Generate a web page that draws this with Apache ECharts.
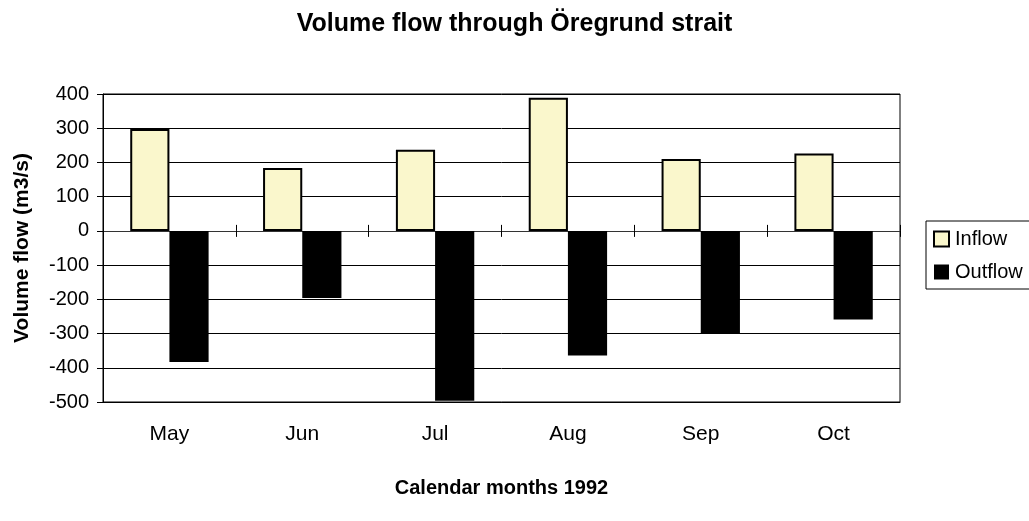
<!DOCTYPE html>
<html>
<head>
<meta charset="utf-8">
<script src="https://cdn.jsdelivr.net/npm/echarts@6/dist/echarts.min.js"></script>
<style>
  html, body { margin: 0; padding: 0; background: #fff; }
  #chart { width: 1029px; height: 521px; }
</style>
</head>
<body>
<div id="chart"></div>
<script>
const months = ['May', 'Jun', 'Jul', 'Aug', 'Sep', 'Oct'];
const inflow = [298, 184, 237, 389, 210, 226];
const outflow = [-383, -196, -496, -364, -300, -259];
const yMin = -500, yMax = 400, yStep = 100;

const font = 'Arial, "Liberation Sans", sans-serif';
const chart = echarts.init(document.getElementById('chart'));

// extra axes only to draw the tick marks crossing the zero line
const hiddenX = {
  type: 'category',
  data: months,
  position: 'bottom',
  axisLabel: { show: false },
  splitLine: { show: false }
};

chart.setOption({
  animation: false,
  textStyle: { fontFamily: font, color: '#000' },
  title: {
    text: 'Volume flow through Öregrund strait',
    left: 'center',
    top: 7,
    textStyle: { fontSize: 25, fontWeight: 'bold', color: '#000', fontFamily: font }
  },
  legend: {
    orient: 'vertical',
    left: 926,
    top: 221,
    padding: [8, 14, 7, 7],
    itemGap: 13,
    itemWidth: 15,
    itemHeight: 15,
    borderColor: '#000',
    borderWidth: 1,
    textStyle: { fontSize: 20, color: '#000', fontFamily: font, padding: [0, 0, 0, 1] },
    data: [
      { name: 'Inflow', icon: 'rect' },
      { name: 'Outflow', icon: 'rect' }
    ]
  },
  grid: {
    left: 103, right: 129, top: 94, bottom: 119,
    show: true, borderColor: '#000', borderWidth: 1
  },
  xAxis: [
    {
      type: 'category',
      data: months,
      position: 'bottom',
      axisLine: { onZero: false, lineStyle: { color: '#000', width: 1 } },
      axisTick: { show: false },
      axisLabel: { fontSize: 21, color: '#000', margin: 22, fontFamily: font },
      name: 'Calendar months 1992',
      nameLocation: 'middle',
      nameGap: 76,
      nameTextStyle: { fontSize: 20, fontWeight: 'bold', color: '#000', fontFamily: font }
    },
    Object.assign({}, hiddenX, {
      axisLine: { onZero: true, onZeroAxisIndex: 0, lineStyle: { color: '#333', width: 1 } },
      axisTick: { show: true, inside: true, length: 6, lineStyle: { color: '#000' } }
    }),
    Object.assign({}, hiddenX, {
      axisLine: { onZero: true, onZeroAxisIndex: 1, lineStyle: { color: '#333', width: 1 } },
      axisTick: { show: true, inside: false, length: 6, lineStyle: { color: '#000' } }
    })
  ],
  yAxis: [
    {
      type: 'value',
      min: yMin,
      max: yMax,
      interval: yStep,
      axisLine: { show: true, lineStyle: { color: '#000' } },
      axisTick: { show: true, length: 6, lineStyle: { color: '#000' } },
      axisLabel: { fontSize: 20, color: '#000', margin: 14, fontFamily: font },
      splitLine: { show: true, lineStyle: { color: '#000', width: 1 } },
      name: 'Volume flow (m3/s)',
      nameLocation: 'middle',
      nameGap: 70,
      nameTextStyle: { fontSize: 21, fontWeight: 'bold', color: '#000', fontFamily: font }
    },
    {
      type: 'value',
      min: yMin,
      max: yMax,
      interval: yStep,
      show: false
    }
  ],
  series: [
    {
      name: 'Inflow',
      type: 'bar',
      data: inflow,
      barGap: '0%',
      barCategoryGap: '41%',
      itemStyle: { color: '#FAF7CC', borderColor: '#000', borderWidth: 2 }
    },
    {
      name: 'Outflow',
      type: 'bar',
      data: outflow,
      itemStyle: { color: '#000', borderColor: '#000', borderWidth: 0 }
    }
  ]
});
</script>
</body>
</html>
